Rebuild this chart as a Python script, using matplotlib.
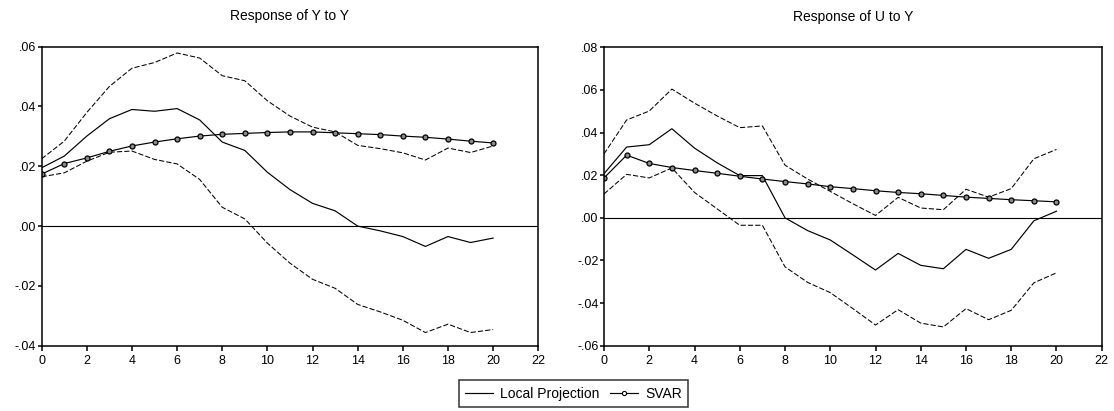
import matplotlib
matplotlib.use("Agg")
import matplotlib.pyplot as plt
from matplotlib.ticker import FuncFormatter, MultipleLocator

plt.rcParams["font.family"] = ["Liberation Sans", "DejaVu Sans"]

horizons = list(range(21))

# Response of Y to Y
yy_lp = [0.0195, 0.0234, 0.0301, 0.0359, 0.0390, 0.0384, 0.0393, 0.0355, 0.0281, 0.0253,
         0.0180, 0.0122, 0.0076, 0.0051, 0.0000, -0.0016, -0.0035, -0.0068, -0.0035, -0.0055, -0.0040]
yy_upper = [0.0225, 0.0284, 0.0380, 0.0467, 0.0528, 0.0547, 0.0579, 0.0562, 0.0503, 0.0486,
            0.0419, 0.0368, 0.0331, 0.0315, 0.0270, 0.0259, 0.0245, 0.0221, 0.0261, 0.0246, 0.0268]
yy_lower = [0.0165, 0.0178, 0.0217, 0.0247, 0.0251, 0.0223, 0.0208, 0.0156, 0.0063, 0.0024,
            -0.0057, -0.0124, -0.0178, -0.0208, -0.0262, -0.0287, -0.0315, -0.0356, -0.0328, -0.0356, -0.0346]
yy_svar = [0.0174, 0.0209, 0.0228, 0.0250, 0.0268, 0.0281, 0.0292, 0.0301, 0.0307, 0.0310,
           0.0313, 0.0315, 0.0315, 0.0312, 0.0309, 0.0306, 0.0301, 0.0297, 0.0291, 0.0284, 0.0278]

# Response of U to Y
uy_lp = [0.0207, 0.0332, 0.0343, 0.0418, 0.0327, 0.0258, 0.0198, 0.0198, 0.0000, -0.0060,
         -0.0104, -0.0174, -0.0245, -0.0167, -0.0223, -0.0239, -0.0148, -0.0190, -0.0148, -0.0014, 0.0031]
uy_upper = [0.0300, 0.0459, 0.0501, 0.0604, 0.0538, 0.0478, 0.0423, 0.0431, 0.0247, 0.0182,
            0.0124, 0.0066, 0.0011, 0.0096, 0.0046, 0.0038, 0.0134, 0.0097, 0.0137, 0.0277, 0.0321]
uy_lower = [0.0112, 0.0204, 0.0187, 0.0234, 0.0119, 0.0042, -0.0035, -0.0035, -0.0230, -0.0303,
            -0.0351, -0.0426, -0.0503, -0.0431, -0.0494, -0.0512, -0.0426, -0.0478, -0.0434, -0.0305, -0.0258]
uy_svar = [0.0187, 0.0294, 0.0255, 0.0236, 0.0222, 0.0209, 0.0195, 0.0182, 0.0170, 0.0159,
           0.0146, 0.0137, 0.0127, 0.0119, 0.0113, 0.0105, 0.0097, 0.0091, 0.0085, 0.0080, 0.0075]


def fmt(v, pos):
    # EViews style: .02, -.04
    s = "%.2f" % v
    if s.startswith("-0"):
        s = "-" + s[2:]
    elif s.startswith("0"):
        s = s[1:]
    return s


def draw_panel(ax, title, lp, upper, lower, svar, ylim):
    ax.axhline(0, color="black", linewidth=0.8)
    ax.plot(horizons, upper, color="black", linewidth=0.75, linestyle=(0, (5, 2)))
    ax.plot(horizons, lower, color="black", linewidth=0.75, linestyle=(0, (5, 2)))
    lp_line, = ax.plot(horizons, lp, color="black", linewidth=0.85)
    svar_line, = ax.plot(horizons, svar, color="black", linewidth=0.85, marker="o",
                         markersize=3.6, markerfacecolor="#8a8a8a",
                         markeredgecolor="black", markeredgewidth=0.9)
    ax.set_xlim(0, 22)
    ax.set_ylim(*ylim)
    ax.xaxis.set_major_locator(MultipleLocator(2))
    ax.yaxis.set_major_locator(MultipleLocator(0.02))
    ax.yaxis.set_major_formatter(FuncFormatter(fmt))
    ax.tick_params(axis="x", direction="out", length=3.5, width=1.1, labelsize=9, pad=3.5)
    ax.tick_params(axis="y", direction="out", length=3, width=1.1, labelsize=9, pad=1)
    for sp in ax.spines.values():
        sp.set_linewidth(1.1)
    ax.set_title(title, fontsize=10, pad=19)
    return lp_line, svar_line


fig = plt.figure(figsize=(11.14, 4.11), dpi=100)
ax1 = fig.add_axes([0.0374, 0.1589, 0.4458, 0.7275])
ax2 = fig.add_axes([0.5422, 0.1589, 0.4468, 0.726])

lp_line, svar_line = draw_panel(ax1, "Response of Y to Y", yy_lp, yy_upper, yy_lower, yy_svar, (-0.04, 0.06))
draw_panel(ax2, "Response of U to Y", uy_lp, uy_upper, uy_lower, uy_svar, (-0.06, 0.08))

svar_handle = plt.Line2D([], [], color="black", linewidth=0.85, marker="o", markersize=3,
                         markerfacecolor="white", markeredgecolor="black", markeredgewidth=0.8)
leg = fig.legend([lp_line, svar_handle], ["Local Projection", "SVAR"], ncol=2,
                 loc="center", bbox_to_anchor=(573.5 / 1114, 1 - 393.5 / 411),
                 fontsize=10, frameon=True, fancybox=False, handlelength=2.0,
                 columnspacing=0.8, handletextpad=0.5, borderpad=0.45,
                 borderaxespad=0)
leg.get_frame().set_edgecolor("black")
leg.get_frame().set_linewidth(1.1)

fig.savefig("out.png", dpi=100)
